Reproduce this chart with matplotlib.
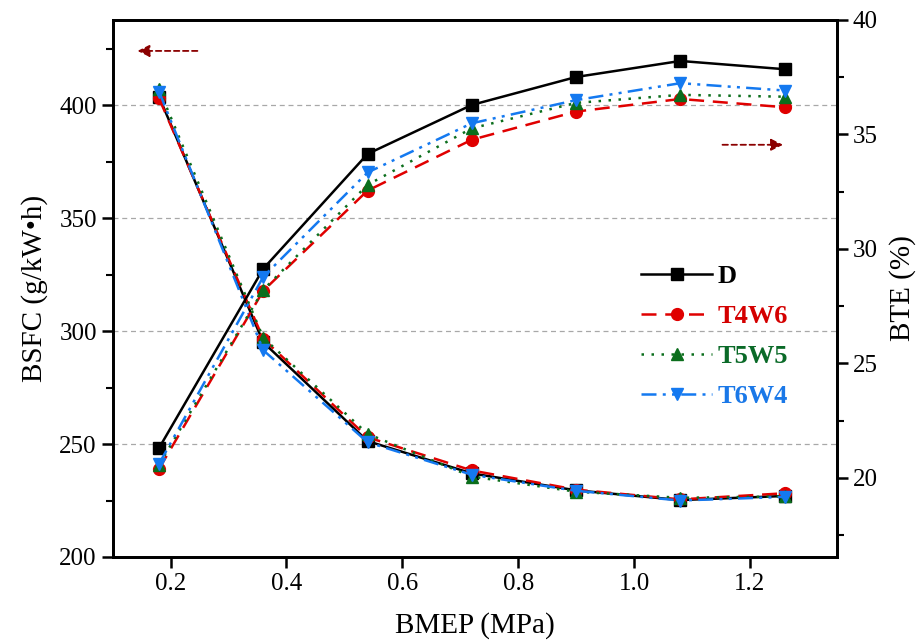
import numpy as np
import matplotlib
matplotlib.use("Agg")
import matplotlib.pyplot as plt
from matplotlib.ticker import MultipleLocator

plt.rcParams["font.family"] = ["Liberation Serif", "DejaVu Serif"]
plt.rcParams["mathtext.fontset"] = "stix"

bmep = [0.18, 0.36, 0.54, 0.72, 0.90, 1.08, 1.26]
fuels = ["D", "T4W6", "T5W5", "T6W4"]

bsfc_d = [403.7, 295.0, 251.3, 237.0, 229.5, 225.2, 227.0]
bsfc_t4w6 = [403.0, 296.5, 253.0, 238.3, 229.8, 225.5, 228.2]
bsfc_t5w5 = [407.0, 297.0, 254.5, 235.6, 228.9, 226.2, 226.8]
bsfc_t6w4 = [406.0, 291.5, 250.8, 236.4, 229.3, 225.0, 226.6]

bte_d = [21.31, 29.14, 34.15, 36.29, 37.51, 38.21, 37.85]
bte_t4w6 = [20.40, 28.18, 32.55, 34.77, 36.00, 36.55, 36.19]
bte_t5w5 = [20.58, 28.22, 32.80, 35.27, 36.38, 36.73, 36.65]
bte_t6w4 = [20.62, 28.79, 33.34, 35.49, 36.50, 37.24, 36.92]

colors = ["#000000", "#e00000", "#0b6e1c", "#1479f0"]
text_colors = ["#000000", "#d40000", "#0a6a28", "#1a78e8"]
markers = ["s", "o", "^", "v"]
styles = ["-", (0, (6, 3.5)), (0, (1, 3)), (0, (6, 2.5, 1.2, 2.5, 1.2, 2.5))]

fig = plt.figure(figsize=(9.21, 6.4), dpi=100)
ax = fig.add_axes([0.1224, 0.1297, 0.7861, 0.8391])
ax2 = ax.twinx()

for vals, c, m, ls in zip([bsfc_d, bsfc_t4w6, bsfc_t5w5, bsfc_t6w4], colors, markers, styles):
    ax.plot(bmep, vals, color=c, marker=m, ls=ls, lw=1.8, ms=8.5, zorder=3)

handles = []
for name, vals, c, m, ls in zip(fuels, [bte_d, bte_t4w6, bte_t5w5, bte_t6w4], colors, markers, styles):
    h, = ax2.plot(bmep, vals, color=c, marker=m, ls=ls, lw=1.8, ms=8.5, label=name, zorder=3)
    handles.append(h)

ax.set_xlim(0.1, 1.35)
ax.set_ylim(200, 437.7)
ax2.set_ylim(16.55, 40)

ax.yaxis.set_major_locator(MultipleLocator(50))
ax.yaxis.set_minor_locator(MultipleLocator(25))
ax2.yaxis.set_major_locator(MultipleLocator(5))
ax2.yaxis.set_minor_locator(MultipleLocator(2.5))
ax.set_xticks([0.2, 0.4, 0.6, 0.8, 1.0, 1.2])
ax.set_xticklabels(["0.2", "0.4", "0.6", "0.8", "1.0", "1.2"])

ax.grid(axis="y", which="major", ls=(0, (4, 3)), color="#a8a8a8", lw=0.9)
ax.set_axisbelow(True)

for a in (ax, ax2):
    for sp in a.spines.values():
        sp.set_linewidth(2.0)
    a.tick_params(which="major", direction="out", length=8, width=1.8, labelsize=18)
    a.tick_params(which="minor", direction="out", length=5, width=1.5)

ax.set_xlabel("BMEP (MPa)", fontsize=21, labelpad=12)
ax.set_ylabel("BSFC (g/kW\u2022h)", fontsize=21, labelpad=8)
ax2.set_ylabel("BTE (%)", fontsize=21, labelpad=8)

# arrows pointing to the axis each curve family belongs to
ax.annotate("", xy=(0.138, 424), xytext=(0.251, 424),
            arrowprops=dict(arrowstyle="-|>", color="#8b0000", lw=1.3,
                            ls=(0, (3, 2)), mutation_scale=18))
ax2.annotate("", xy=(1.262, 34.55), xytext=(1.148, 34.55),
             arrowprops=dict(arrowstyle="-|>", color="#8b0000", lw=1.3,
                             ls=(0, (3, 2)), mutation_scale=18))

leg = ax2.legend(handles=handles, loc="upper left", bbox_to_anchor=(0.697, 0.588),
                 frameon=False, handlelength=2.7, handletextpad=0.2,
                 labelspacing=0.62, prop=dict(weight="bold", size=19))
for t, c in zip(leg.get_texts(), text_colors):
    t.set_color(c)

fig.savefig("out.png", dpi=100)
